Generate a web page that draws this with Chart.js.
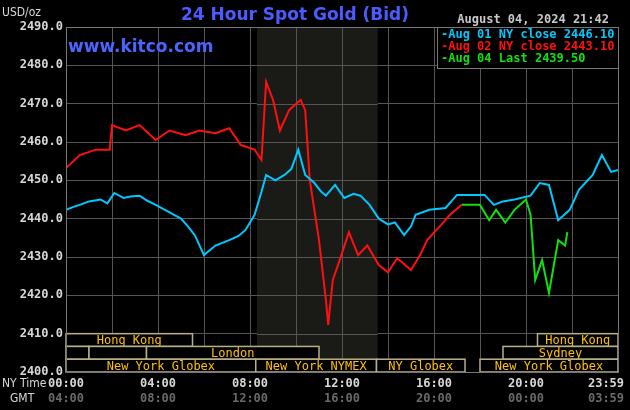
<!DOCTYPE html><html><head><meta charset="utf-8">
<script src="https://cdn.jsdelivr.net/npm/chart.js@4"></script>
<style>html,body{margin:0;background:#000}#w{width:630px;height:410px}</style></head><body><div id="w"><canvas id="c"></canvas></div>
<script>
const yTicks=[2400,2410,2420,2430,2440,2450,2460,2470,2480,2490];
const nyLabels=['00:00','04:00','08:00','12:00','16:00','20:00','23:59'];
const gmtLabels=['04:00','08:00','12:00','16:00','20:00','00:00','03:59'];
const labelHours=[0,4,8,12,16,20,24];
const blueH=[0,0.3,0.6,1,1.5,1.8,2.1,2.5,2.8,3.2,3.5,3.9,4.3,4.7,5,5.3,5.6,6,6.3,6.5,7.1,7.5,7.8,8.2,8.5,8.7,9.1,9.5,9.8,10.1,10.4,10.8,11.1,11.3,11.7,12.1,12.5,12.8,13.2,13.6,14,14.3,14.7,15,15.2,15.8,16.5,17,18.2,18.6,19,19.5,20.2,20.6,21,21.4,21.9,22.3,22.9,23.3,23.7,24];
const blueV=[2442.3,2443,2443.6,2444.5,2445,2444,2446.7,2445.4,2445.8,2446,2444.8,2443.6,2442.3,2441,2440,2438,2435.7,2430.5,2432,2433,2434.4,2435.5,2437,2441,2447,2451.4,2450,2451.4,2453,2458,2451.4,2449.3,2447,2446,2448.8,2445.4,2446.5,2446,2443.6,2440,2438.5,2439,2435.7,2438,2441,2442.3,2442.8,2446.2,2446.2,2443.6,2444.5,2445,2446,2449.3,2448.8,2439.6,2442.3,2447.5,2451.4,2456.6,2452.2,2452.7];
const redH=[0,0.6,1.3,1.9,2.0,2.6,3.2,3.9,4.5,5.2,5.8,6.5,7.1,7.6,8.2,8.5,8.7,9,9.3,9.7,10.2,10.4,10.6,11,11.3,11.4,11.6,11.9,12.3,12.7,13.1,13.6,14,14.4,15,15.4,15.7,16.3,16.7,17.2];
const redV=[2453.2,2456.6,2458,2458,2464.4,2463,2464.4,2460.5,2463,2461.8,2463,2462.3,2463.6,2459.2,2458,2455.3,2475.7,2471,2463,2468.3,2471,2468.3,2450,2434.4,2418.8,2412.3,2424,2429.2,2436.5,2430.5,2433,2427.9,2426,2429.7,2426.6,2430.5,2434.4,2438.3,2441,2443.6];
const greenH=[17.2,18,18.4,18.7,19.1,19.5,20,20.2,20.4,20.7,21,21.4,21.7,21.8];
const greenV=[2443.6,2443.6,2439.6,2442.3,2439,2442.3,2445,2441,2424,2429.2,2420.6,2434.4,2433,2436.5];
const sessions=[
 [0,0,5.5,'Hong Kong'],[0,20.5,24,'Hong Kong'],
 [1,0,1,''],[1,1,3.5,''],[1,3.5,11,'London'],[1,19,24,'Sydney'],
 [2,0,8.25,'New York Globex'],[2,8.25,13.5,'New York NYMEX'],[2,13.5,17.35,'NY Globex'],[2,18,24,'New York Globex']];
const pts=(h,v)=>h.map((x,i)=>({x,y:v[i]}));
const F='"DejaVu Sans Mono","Liberation Mono",monospace';
const deco={id:'deco',
 beforeDatasetsDraw(ch){const {ctx,chartArea:a,scales:{x,y}}=ch;
  ctx.save();ctx.fillStyle='#1a1b16';const x1=x.getPixelForValue(8.3),x2=x.getPixelForValue(13.55);
  ctx.fillRect(x1,a.top,x2-x1,a.bottom-a.top);
  ctx.strokeStyle='#555';ctx.lineWidth=1;
  for(let h=10;h<=12;h+=2){const p=Math.round(x.getPixelForValue(h))+0.5;ctx.beginPath();ctx.moveTo(p,a.top);ctx.lineTo(p,a.bottom);ctx.stroke();}
  yTicks.forEach(v=>{const p=Math.round(y.getPixelForValue(v))+0.5;ctx.beginPath();ctx.moveTo(x1,p);ctx.lineTo(x2,p);ctx.stroke();});
  ctx.restore();},
 afterDatasetsDraw(ch){const {ctx,chartArea:a,scales:{x,y}}=ch;ctx.save();
  const rh=(a.bottom-y.getPixelForValue(2410))/3;const top0=y.getPixelForValue(2410);
  ctx.font='12px '+F;ctx.textAlign='center';ctx.textBaseline='middle';
  sessions.forEach(([r,s,e,t])=>{const l=x.getPixelForValue(s),rr=x.getPixelForValue(e),tp=top0+r*rh;
   ctx.fillStyle='#000';ctx.fillRect(l,tp,rr-l,rh);
   ctx.strokeStyle='#b8b088';ctx.lineWidth=1.5;ctx.strokeRect(l,tp,rr-l,rh);
   ctx.fillStyle='#ffc000';if(t)ctx.fillText(t,(l+rr)/2,tp+rh/2+1);});
  ctx.strokeStyle='#777';ctx.lineWidth=1;ctx.strokeRect(a.left+0.5,a.top+0.5,a.right-a.left,a.bottom-a.top);
  ctx.font='bold 12px '+F;ctx.fillStyle='#d8d8d8';ctx.textAlign='right';
  yTicks.forEach(v=>ctx.fillText(v.toFixed(1),a.left-3,y.getPixelForValue(v)));
  ctx.textAlign='center';
  labelHours.forEach((h,i)=>{let px=x.getPixelForValue(h);if(i==6)px-=12;
   ctx.fillStyle='#d8d8d8';ctx.fillText(nyLabels[i],px,384);ctx.fillStyle='#6a6a6a';ctx.fillText(gmtLabels[i],px,399);});
  ctx.font='12px "DejaVu Sans Condensed","DejaVu Sans",sans-serif';ctx.fillStyle='#d8d8d8';ctx.textAlign='left';
  ctx.fillText('NY Time',2,384);ctx.fillText('GMT',10,399);ctx.fillText('USD/oz',2,13);
  ctx.font='bold 17px "DejaVu Sans",sans-serif';ctx.fillStyle='#4a5cff';ctx.textAlign='center';ctx.fillText('24 Hour Spot Gold (Bid)',295,16);
  ctx.fillStyle='#4a66ff';ctx.textAlign='left';ctx.fillText('www.kitco.com',68,48);
  ctx.font='bold 12px '+F;ctx.fillStyle='#c8c8c8';ctx.textAlign='right';ctx.fillText('August 04, 2024 21:42',609,20);
  ctx.fillStyle='#000';ctx.fillRect(437,28,181,40);ctx.strokeStyle='#777';ctx.strokeRect(437.5,27.5,181,41);
  ctx.textAlign='left';
  [['#00c8ff','Aug 01 NY close 2446.10'],['#ff1010','Aug 02 NY close 2443.10'],['#10e010','Aug 04 Last 2439.50']].forEach(([c,t],i)=>{ctx.fillStyle=c;ctx.fillText('-'+t,441,35+i*12);});
  ctx.restore();}};
new Chart(document.getElementById('c'),{type:'line',
 data:{datasets:[
  {data:pts(blueH,blueV),borderColor:'#00c8ff'},
  {data:pts(redH,redV),borderColor:'#ff1010'},
  {data:pts(greenH,greenV),borderColor:'#10e010'}]},
 options:{animation:false,responsive:true,maintainAspectRatio:false,devicePixelRatio:1,
  layout:{padding:{left:66,right:12,top:27,bottom:38}},
  elements:{point:{radius:0},line:{borderWidth:2,tension:0}},
  plugins:{legend:{display:false},tooltip:{enabled:false}},
  scales:{x:{type:'linear',min:0,max:24,ticks:{display:false,stepSize:2},grid:{color:'#555',drawTicks:false},border:{display:false}},
   y:{min:2400,max:2490,ticks:{display:false,stepSize:10},grid:{color:'#555',drawTicks:false},border:{display:false}}}},
 plugins:[deco]});
</script></body></html>
